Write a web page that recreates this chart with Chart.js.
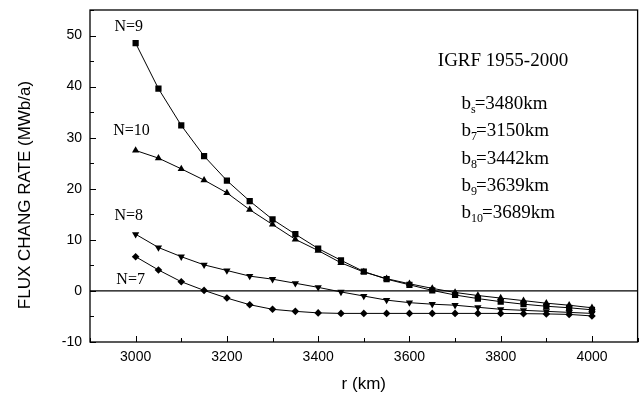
<!DOCTYPE html>
<html>
<head>
<meta charset="utf-8">
<script src="https://cdn.jsdelivr.net/npm/chart.js@4.4.1/dist/chart.umd.min.js"></script>
<style>
  html, body { margin: 0; padding: 0; background: #fff; }
  #wrap { width: 642px; height: 399px; }
</style>
</head>
<body>
<div id="wrap"><canvas id="chart" width="642" height="399"></canvas></div>
<script>
// radius r (km)
const radius = [3000, 3050, 3100, 3150, 3200, 3250, 3300, 3350, 3400, 3450, 3500,
                3550, 3600, 3650, 3700, 3750, 3800, 3850, 3900, 3950, 4000];

// flux change rate (MWb/a) for each degree N
const fluxN9  = [48.5, 39.6, 32.4, 26.4, 21.6, 17.6, 14.0, 11.1, 8.3, 6.0, 3.8,
                 2.3, 1.2, 0.1, -0.8, -1.5, -2.1, -2.6, -3.0, -3.3, -3.7];
const fluxN10 = [27.5, 26.0, 23.9, 21.7, 19.2, 15.9, 13.0, 10.1, 7.9, 5.5, 3.7,
                 2.4, 1.4, 0.5, -0.3, -0.9, -1.4, -1.9, -2.4, -2.8, -3.3];
const fluxN8  = [11.1, 8.5, 6.7, 5.1, 4.0, 2.9, 2.3, 1.5, 0.7, -0.2, -1.0,
                 -1.8, -2.3, -2.6, -2.8, -3.2, -3.6, -3.8, -4.0, -4.2, -4.4];
const fluxN7  = [6.7, 4.1, 1.8, 0.1, -1.4, -2.7, -3.6, -4.0, -4.3, -4.4, -4.4,
                 -4.4, -4.4, -4.4, -4.4, -4.4, -4.4, -4.45, -4.5, -4.6, -4.9];

const xTicks = [3000, 3200, 3400, 3600, 3800, 4000];
const yTicks = [-10, 0, 10, 20, 30, 40, 50];

const curveLabels = [
  { text: 'N=9',  x: 2985, y: 51.7 },
  { text: 'N=10', x: 2991, y: 31.4 },
  { text: 'N=8',  x: 2985, y: 14.8 },
  { text: 'N=7',  x: 2989, y: 2.1 }
];
const depthLabels = [
  { sub: 's',  text: '=3480km' },
  { sub: '7',  text: '=3150km' },
  { sub: '8',  text: '=3442km' },
  { sub: '9',  text: '=3639km' },
  { sub: '10', text: '=3689km' }
];

const serif = '"Liberation Serif", "Times New Roman", serif';
const sans = '"Liberation Sans", Arial, sans-serif';

function series(label, data, style, radiusPx, rot) {
  return {
    label: label,
    data: data,
    borderColor: '#000',
    backgroundColor: '#000',
    borderWidth: 1,
    pointStyle: style,
    pointRotation: rot || 0,
    pointRadius: radiusPx,
    pointBorderWidth: 0,
    tension: 0
  };
}

// frame, inward ticks, zero line, y title and text notes
const decor = {
  id: 'decor',
  afterDraw(chart) {
    const { ctx, chartArea: a, scales: { x, y } } = chart;
    ctx.save();
    ctx.strokeStyle = '#000';
    ctx.lineWidth = 1.3;
    ctx.strokeRect(a.left, a.top, a.right - a.left, a.bottom - a.top);

    ctx.lineWidth = 1.2;
    const y0 = y.getPixelForValue(0);
    ctx.beginPath();
    ctx.moveTo(a.left, y0);
    ctx.lineTo(a.right, y0);
    ctx.stroke();

    ctx.lineWidth = 1;
    ctx.beginPath();
    for (let v = 2900; v <= 4100; v += 100) {
      const px = Math.round(x.getPixelForValue(v)) + 0.5;
      const len = v % 200 === 0 ? 6 : 4;
      ctx.moveTo(px, a.bottom);
      ctx.lineTo(px, a.bottom - len);
    }
    for (let v = -10; v <= 55; v += 5) {
      const py = Math.round(y.getPixelForValue(v)) + 0.5;
      const len = v % 10 === 0 ? 6 : 4;
      ctx.moveTo(a.left, py);
      ctx.lineTo(a.left + len, py);
    }
    ctx.stroke();

    ctx.fillStyle = '#000';
    ctx.textBaseline = 'middle';
    ctx.textAlign = 'center';

    // y axis title
    ctx.save();
    ctx.translate(25, 195);
    ctx.rotate(-Math.PI / 2);
    ctx.font = '17px ' + sans;
    ctx.fillText('FLUX CHANG RATE (MWb/a)', 0, 0);
    ctx.restore();

    ctx.font = '16px ' + serif;
    curveLabels.forEach(l => {
      ctx.fillText(l.text, x.getPixelForValue(l.x), y.getPixelForValue(l.y));
    });

    ctx.font = '19px ' + serif;
    ctx.fillText('IGRF 1955-2000', x.getPixelForValue(3805), y.getPixelForValue(45));

    ctx.textAlign = 'left';
    const left = x.getPixelForValue(3714);
    depthLabels.forEach((d, i) => {
      const py = y.getPixelForValue(36.6 - i * 5.35);
      ctx.font = '19px ' + serif;
      ctx.fillText('b', left, py);
      const bw = ctx.measureText('b').width;
      ctx.font = '12px ' + serif;
      ctx.fillText(d.sub, left + bw, py + 6);
      const sw = ctx.measureText(d.sub).width;
      ctx.font = '19px ' + serif;
      ctx.fillText(d.text, left + bw + sw - 1, py);
    });
    ctx.restore();
  }
};

const ctx = document.getElementById('chart').getContext('2d');
new Chart(ctx, {
  type: 'line',
  data: {
    labels: radius,
    datasets: [
      series('N=9', fluxN9, 'rect', 4.4),
      series('N=10', fluxN10, 'triangle', 4.2),
      series('N=8', fluxN8, 'triangle', 4.2, 180),
      series('N=7', fluxN7, 'rectRot', 3.8)
    ]
  },
  options: {
    responsive: false,
    animation: false,
    layout: { padding: { top: 10, right: 3, left: 0, bottom: 0 } },
    plugins: { legend: { display: false }, tooltip: { enabled: false } },
    scales: {
      x: {
        type: 'linear',
        min: 2900,
        max: 4100,
        afterBuildTicks: s => { s.ticks = xTicks.map(v => ({ value: v })); },
        afterFit: s => { s.height = 57; s.paddingLeft = 0; s.paddingRight = 0; },
        grid: { display: false, drawTicks: false },
        border: { display: false },
        ticks: { color: '#000', font: { family: sans, size: 14 }, padding: 7, callback: v => String(v) },
        title: { display: true, text: 'r (km)', color: '#000', font: { family: sans, size: 17 }, padding: { top: 5 } }
      },
      y: {
        min: -10,
        max: 55,
        afterBuildTicks: s => { s.ticks = yTicks.map(v => ({ value: v })); },
        afterFit: s => { s.width = 90; s.paddingTop = 0; s.paddingBottom = 0; },
        grid: { display: false, drawTicks: false },
        border: { display: false },
        ticks: { color: '#000', font: { family: sans, size: 14 }, padding: 8, callback: v => String(v) }
      }
    }
  },
  plugins: [decor]
});
</script>
</body>
</html>
